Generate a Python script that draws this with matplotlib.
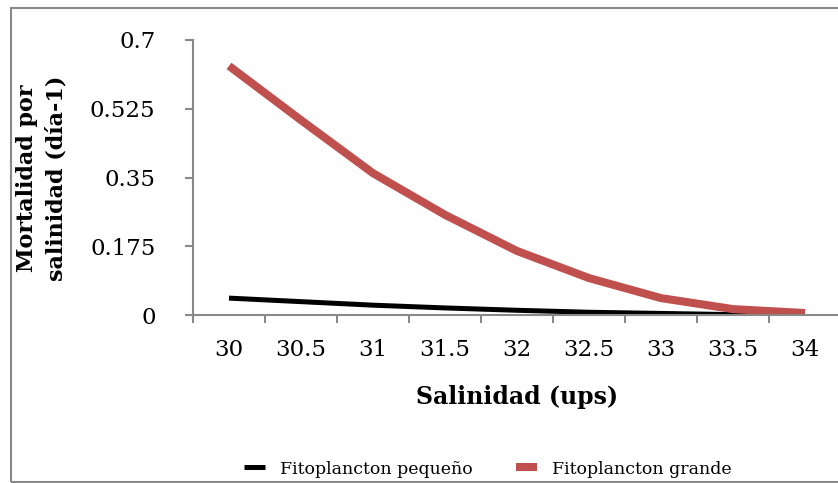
import numpy as np
import matplotlib
matplotlib.use("Agg")
import matplotlib.pyplot as plt
from matplotlib.patches import Rectangle

# salinidad (ups) y mortalidad por salinidad (dia-1)
salinidad = ["30", "30.5", "31", "31.5", "32", "32.5", "33", "33.5", "34"]
fito_pequeno = [0.043, 0.034, 0.025, 0.018, 0.012, 0.007, 0.004, 0.001, 0.0]
fito_grande = [0.634, 0.496, 0.361, 0.255, 0.163, 0.094, 0.043, 0.015, 0.005]
yticks = [0, 0.175, 0.35, 0.525, 0.7]
ytick_labels = ["0", "0.175", "0.35", "0.525", "0.7"]

plt.rcParams['font.family'] = ['DejaVu Serif']

fig = plt.figure(figsize=(8.38, 4.83), dpi=100)
ax = fig.add_axes([193 / 838, 168 / 483, 648 / 838, 275 / 483])

x = np.arange(len(salinidad))
ax.plot(x, fito_pequeno, color="black", lw=3.6, solid_capstyle="butt",
        label="Fitoplancton pequeño")
ax.plot(x, fito_grande, color="#c0504d", lw=5.8, solid_capstyle="butt",
        label="Fitoplancton grande")

ax.set_xlim(-0.5, len(salinidad) - 0.5)
ax.set_ylim(0, 0.7)
ax.set_yticks(yticks)
ax.set_yticklabels(ytick_labels, fontsize=16.5)
ax.set_xticks(x)
ax.set_xticklabels(salinidad, fontsize=16.5)
ax.set_xticks(np.arange(len(salinidad) + 1) - 0.5, minor=True)
ax.tick_params(axis="x", which="major", length=0, pad=17)
ax.tick_params(axis="x", which="minor", length=6, color="#898989", width=1.5)
ax.tick_params(axis="y", length=6, color="#898989", width=1.5, pad=21)

for s in ["top", "right"]:
    ax.spines[s].set_visible(False)
for s in ["left", "bottom"]:
    ax.spines[s].set_color("#898989")
    ax.spines[s].set_linewidth(1.5)

fig.text(517 / 838, 1 - 404 / 483, "Salinidad (ups)", fontsize=17,
         fontweight="bold", ha="center", va="baseline")
fig.text(42 / 838, 1 - 178 / 483, "Mortalidad por\nsalinidad (día-1)",
         fontsize=16, fontweight="bold", ha="center", va="center",
         rotation=90, linespacing=1.45)

fig.legend(loc="center", bbox_to_anchor=(488 / 838, 1 - 469 / 483), ncol=2,
           frameon=False, fontsize=12.5, handlelength=1.2, columnspacing=2.5,
           handletextpad=0.86, borderpad=0, borderaxespad=0)

fig.patches.append(Rectangle((11 / 838, 1 / 483), 1.0, 474 / 483,
                             transform=fig.transFigure, fill=False,
                             edgecolor="#898989", lw=1.5))

fig.savefig("out.png", dpi=100)
